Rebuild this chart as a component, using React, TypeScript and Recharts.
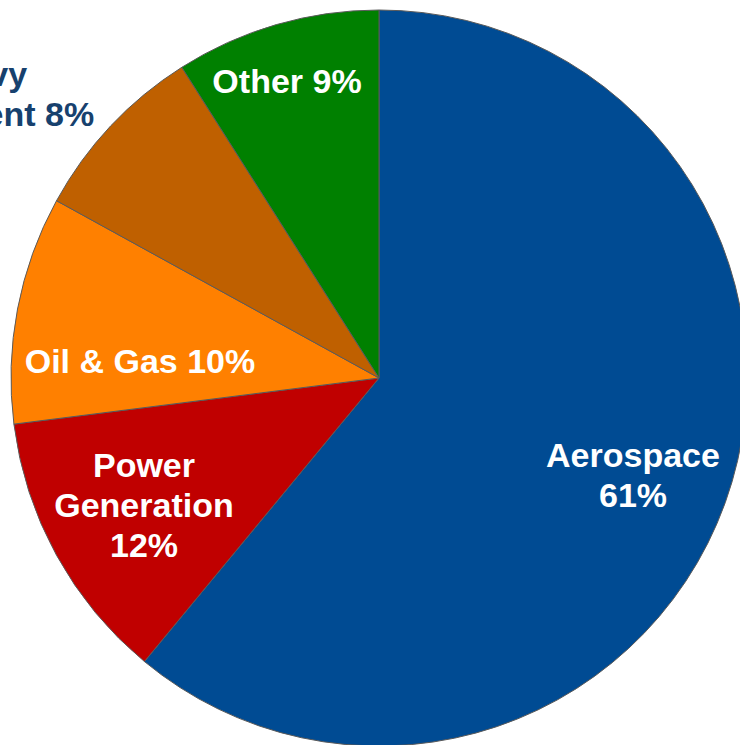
import { PieChart, Pie, Cell } from "recharts";

// segments, clockwise from 12 o'clock
const SEGMENTS = ["Aerospace", "Power Generation", "Oil & Gas", "Heavy Equipment", "Other"];
const SHARES = [61, 12, 10, 8, 9];
const LABEL_LINES = [
  ["Aerospace", "61%"],
  ["Power", "Generation", "12%"],
  ["Oil & Gas 10%"],
  ["Heavy", "Equipment 8%"],
  ["Other 9%"],
];

const COLORS = ["#004B93", "#C00000", "#FF8000", "#BF6000", "#008000"];
const TEXT_COLORS = ["#fff", "#fff", "#fff", "#17416E", "#fff"];
// first baseline of each label, relative to pie centre
const LABEL_OFFSETS = [
  { dx: 254, dy: 89 },
  { dx: -235, dy: 99 },
  { dx: -239, dy: -5 },
  { dx: -402, dy: -292 },
  { dx: -92, dy: -285 },
];
const LINE_H = 40;

const data = SEGMENTS.map((name, i) => ({ name, value: SHARES[i] }));

const renderLabel = (props: any) => {
  const { cx, cy, index } = props;
  const off = LABEL_OFFSETS[index];
  return (
    <text
      key={"lbl-" + index}
      x={cx + off.dx}
      y={cy + off.dy}
      textAnchor="middle"
      fill={TEXT_COLORS[index]}
      fontFamily="'Liberation Sans', Arial, sans-serif"
      fontWeight="bold"
      fontSize={34}
    >
      {LABEL_LINES[index].map((line, j) => (
        <tspan key={j} x={cx + off.dx} dy={j === 0 ? 0 : LINE_H}>
          {line}
        </tspan>
      ))}
    </text>
  );
};

export default function App() {
  return (
    <div
      style={{
        position: "absolute",
        left: 0,
        top: 0,
        width: 740,
        height: 745,
        overflow: "hidden",
        background: "#fff",
      }}
    >
      <PieChart width={740} height={745} margin={{ top: 0, right: 0, bottom: 0, left: 0 }}>
        <Pie
          data={data}
          dataKey="value"
          nameKey="name"
          cx={379}
          cy={378}
          outerRadius={368}
          startAngle={90}
          endAngle={-270}
          stroke="#5a5a5a"
          strokeWidth={1}
          labelLine={false}
          label={renderLabel}
          isAnimationActive={false}
        >
          {data.map((d, i) => (
            <Cell key={d.name} fill={COLORS[i]} />
          ))}
        </Pie>
      </PieChart>
    </div>
  );
}
